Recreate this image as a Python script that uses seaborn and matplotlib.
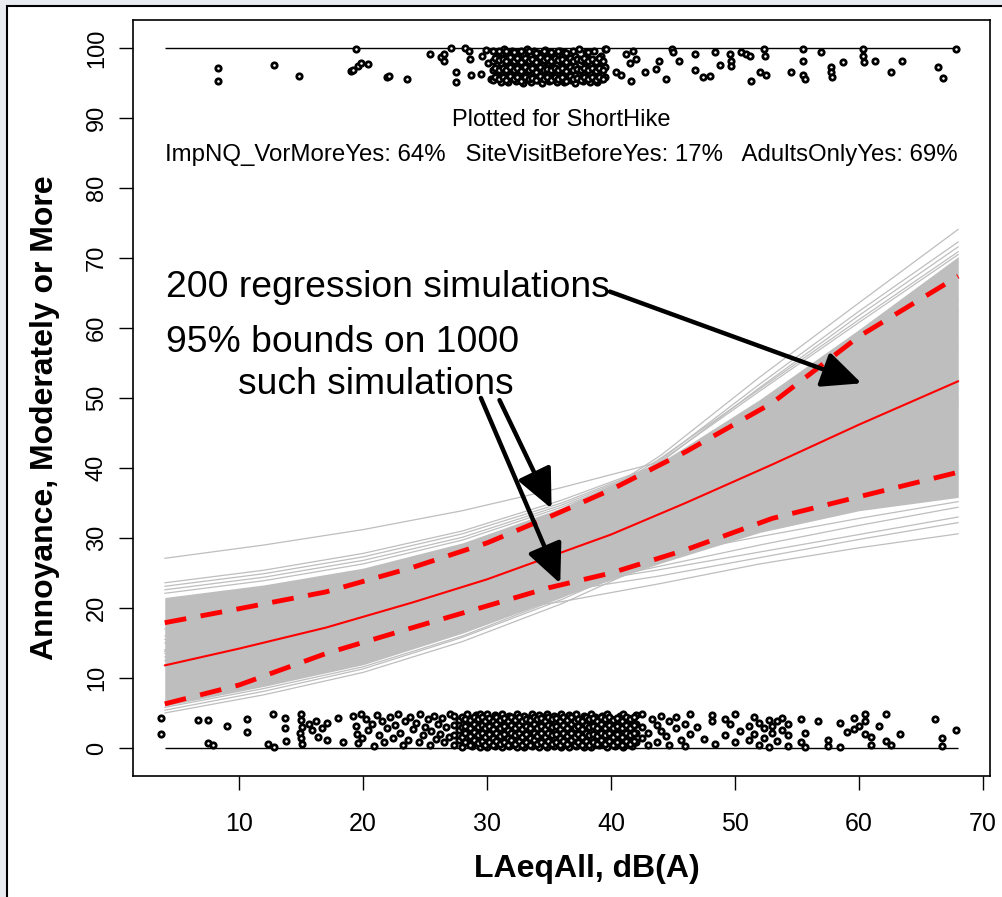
import numpy as np
import pandas as pd
import matplotlib
matplotlib.use('Agg')
import matplotlib.pyplot as plt
from matplotlib.patches import Rectangle
import seaborn as sns

sns.set_style('white')
plt.rcParams['font.family'] = ['Liberation Sans', 'DejaVu Sans']
plt.rcParams['text.color'] = 'black'
plt.rcParams['axes.labelcolor'] = 'black'
plt.rcParams['xtick.color'] = 'black'
plt.rcParams['ytick.color'] = 'black'

# noise level grid used for curves
curve_x = [4, 10, 17, 24, 30, 35, 40, 46, 53, 60, 68]
median_y = [11.8, 14.2, 17.2, 20.8, 24.1, 27.3, 30.5, 35.0, 40.5, 46.2, 52.4]
upper_y = [17.9, 19.9, 22.3, 25.8, 29.3, 33.0, 36.9, 42.3, 49.3, 58.8, 67.4]
lower_y = [6.3, 9.0, 13.5, 17.2, 20.3, 22.9, 25.0, 28.3, 32.8, 35.9, 39.4]

# simulated regression lines (values at sim_x)
sim_x = [4, 12, 20, 28, 36, 44, 52, 60, 68]
core_lo = [6.0, 8.8, 11.9, 16.4, 21.6, 26.4, 30.8, 33.9, 35.8]
core_hi = [21.5, 23.3, 25.7, 29.3, 34.3, 40.8, 49.8, 59.8, 70.2]
sim_lines = {
    't1': [27.1, 29.0, 31.2, 33.9, 37.2, 40.9, 45.5, 51.0, 57.0],
    't2': [23.6, 25.4, 27.8, 31.0, 35.4, 40.6, 46.5, 53.0, 60.0],
    't3': [23.1, 24.9, 27.3, 30.6, 35.0, 40.5, 47.0, 54.0, 61.5],
    't4': [22.6, 24.4, 26.8, 30.1, 34.7, 40.4, 47.2, 54.6, 62.5],
    't5': [22.1, 23.9, 26.3, 29.7, 34.4, 40.3, 47.6, 55.5, 64.0],
    'r1': [14.0, 17.0, 20.6, 25.6, 32.6, 41.8, 53.0, 63.6, 74.1],
    'r2': [13.0, 16.0, 19.6, 24.6, 31.6, 41.2, 52.0, 62.4, 72.3],
    'r3': [12.5, 15.6, 19.1, 24.1, 31.1, 40.8, 51.5, 61.8, 71.6],
    'r4': [15.0, 17.6, 21.1, 25.8, 32.6, 41.4, 51.3, 61.2, 70.9],
    'r5': [13.8, 16.6, 20.1, 25.0, 32.0, 41.0, 51.0, 60.8, 70.5],
    'b1': [5.0, 7.6, 10.8, 15.2, 20.6, 27.0, 34.5, 42.0, 49.5],
    'b2': [5.4, 8.1, 11.3, 15.8, 21.2, 27.5, 34.5, 42.0, 49.0],
    'b3': [5.8, 8.5, 11.6, 16.0, 21.5, 27.8, 35.0, 42.5, 50.0],
    'f1': [14.0, 15.6, 17.3, 19.0, 20.9, 23.5, 26.3, 28.6, 30.6],
    'f2': [15.5, 17.0, 18.8, 20.6, 22.4, 24.6, 27.2, 29.8, 32.2],
    'f3': [16.0, 17.6, 19.3, 21.2, 23.2, 25.5, 28.0, 30.5, 33.0],
    'f4': [13.5, 15.5, 17.8, 20.3, 23.0, 26.0, 29.0, 31.8, 34.4],
    'f5': [17.0, 18.8, 20.7, 22.8, 25.0, 27.5, 30.2, 32.8, 35.2],
}

# jittered responses, not annoyed (0-5)
bottom_x = [3.7, 3.7, 6.7, 7.5, 7.5, 7.9, 9.0, 10.6, 10.6, 12.3, 12.7, 12.8, 13.7, 13.7, 13.8,
            15.0, 15.0, 15.1, 14.9, 15.0, 15.1, 15.6, 15.9, 16.2, 16.4, 16.7, 17.1, 17.1, 18.0, 18.4,
            19.2, 19.4, 19.5, 19.6, 19.8, 19.9, 20.2, 20.4, 20.7, 20.9, 21.1, 21.3, 21.5, 21.7, 21.9,
            22.2, 22.4, 22.6, 22.8, 23.0, 23.2, 23.4, 23.6, 23.8, 24.0, 24.3, 24.5, 24.6, 24.8, 25.0,
            25.2, 25.4, 25.5, 25.7, 25.9, 26.0, 26.2, 26.4, 26.5, 26.7, 26.9, 27.0,
            27.3, 27.3, 27.3, 27.3, 27.7, 27.7, 27.7, 28.0, 28.0, 28.0, 28.0, 28.4, 28.4, 28.4, 28.4,
            28.8, 28.8, 28.8, 28.8, 29.1, 29.1, 29.1, 29.1, 29.4, 29.4, 29.4, 29.4, 29.4,
            29.7, 29.7, 29.7, 29.7, 30.0, 30.0, 30.0, 30.0, 30.0, 30.3, 30.3, 30.3, 30.3,
            30.6, 30.6, 30.6, 30.6, 30.6, 30.9, 30.9, 30.9, 30.9, 31.2, 31.2, 31.2, 31.2, 31.2,
            31.5, 31.5, 31.5, 31.5, 31.8, 31.8, 31.8, 31.8, 31.8, 32.1, 32.1, 32.1, 32.1,
            32.4, 32.4, 32.4, 32.4, 32.4, 32.7, 32.7, 32.7, 32.7, 33.0, 33.0, 33.0, 33.0, 33.0,
            33.3, 33.3, 33.3, 33.3, 33.6, 33.6, 33.6, 33.6, 33.6, 33.9, 33.9, 33.9, 33.9,
            34.2, 34.2, 34.2, 34.2, 34.2, 34.5, 34.5, 34.5, 34.5, 34.8, 34.8, 34.8, 34.8, 34.8,
            35.1, 35.1, 35.1, 35.1, 35.4, 35.4, 35.4, 35.4, 35.4, 35.7, 35.7, 35.7, 35.7,
            36.0, 36.0, 36.0, 36.0, 36.0, 36.3, 36.3, 36.3, 36.3, 36.6, 36.6, 36.6, 36.6, 36.6,
            36.9, 36.9, 36.9, 36.9, 37.2, 37.2, 37.2, 37.2, 37.2, 37.5, 37.5, 37.5, 37.5,
            37.8, 37.8, 37.8, 37.8, 37.8, 38.1, 38.1, 38.1, 38.1, 38.4, 38.4, 38.4, 38.4, 38.4,
            38.7, 38.7, 38.7, 38.7, 39.0, 39.0, 39.0, 39.0, 39.3, 39.3, 39.3, 39.3,
            39.7, 39.7, 39.7, 39.7, 39.7, 40.0, 40.0, 40.0, 40.0, 40.3, 40.3, 40.3, 40.3,
            40.7, 40.7, 40.7, 40.7, 41.0, 41.0, 41.0, 41.0, 41.0, 41.4, 41.4, 41.4, 41.4,
            41.7, 41.7, 41.7, 41.7, 42.0, 42.0, 42.0, 42.0,
            42.5, 42.5, 42.5, 43.0, 43.0, 43.3, 43.7, 43.7, 44.0, 44.0, 44.4, 44.7, 44.7, 45.2, 45.2,
            45.6, 46.0, 46.0, 46.4, 46.4, 46.9, 47.5, 48.1, 48.1, 48.4, 49.2, 49.2, 49.6, 50.0, 50.0,
            50.4, 51.1, 51.1, 51.5, 51.5, 51.9, 51.9, 52.3, 52.3, 52.7, 52.7, 53.0, 53.0, 53.4, 53.4,
            53.8, 53.8, 54.3, 54.3, 54.3, 55.3, 55.3, 55.6, 55.6, 56.7, 57.5, 57.5, 58.5, 58.5, 59.0,
            59.6, 59.6, 60.0, 60.5, 60.5, 60.5, 61.0, 61.0, 61.6, 62.2, 62.2, 62.6, 63.3, 66.1, 66.7,
            66.7, 67.8]
bottom_y = [4.3, 2.0, 4.0, 4.0, 0.7, 0.4, 3.2, 4.2, 2.3, 0.6, 4.9, 0.2, 4.3, 2.8, 1.0,
            4.8, 4.0, 3.0, 2.2, 1.4, 0.6, 3.4, 2.6, 3.8, 1.6, 2.9, 3.6, 1.2, 4.3, 0.8,
            4.6, 3.1, 2.0, 0.7, 4.9, 1.4, 4.2, 2.6, 3.5, 0.3, 4.7, 1.9, 3.9, 0.9, 2.9,
            4.4, 1.5, 3.3, 4.9, 2.2, 0.5, 3.9, 1.2, 4.5, 2.7, 3.6, 0.9, 4.8, 1.8, 3.0,
            4.1, 0.4, 2.4, 4.6, 1.3, 3.4, 2.0, 4.3, 0.8, 3.0, 1.6, 4.8,
            0.4, 1.9, 3.3, 4.6, 1.1, 2.6, 4.0, 0.2, 1.6, 3.0, 4.4, 0.8, 2.2, 3.7, 4.9,
            0.3, 1.5, 2.9, 4.2, 0.9, 2.3, 3.5, 4.7, 0.1, 1.3, 2.6, 3.9, 4.8,
            0.6, 1.8, 3.1, 4.3, 0.2, 1.2, 2.4, 3.6, 4.9, 0.7, 1.9, 3.0, 4.2,
            0.3, 1.4, 2.6, 3.8, 4.7, 0.9, 2.1, 3.3, 4.4, 0.1, 1.2, 2.5, 3.6, 4.8,
            0.6, 1.7, 2.9, 4.1, 0.3, 1.4, 2.4, 3.5, 4.6, 0.8, 2.0, 3.2, 4.3,
            0.2, 1.1, 2.6, 3.8, 4.9, 0.6, 1.6, 2.9, 4.1, 0.1, 1.3, 2.3, 3.5, 4.6,
            0.7, 1.9, 3.1, 4.3, 0.3, 1.2, 2.5, 3.7, 4.8, 0.8, 2.0, 3.0, 4.2,
            0.2, 1.5, 2.7, 3.8, 4.7, 0.6, 1.7, 3.2, 4.4, 0.1, 1.1, 2.3, 3.5, 4.9,
            0.7, 1.9, 2.9, 4.1, 0.3, 1.4, 2.6, 3.7, 4.6, 0.9, 2.0, 3.3, 4.4,
            0.2, 1.2, 2.4, 3.6, 4.8, 0.6, 1.8, 3.0, 4.2, 0.1, 1.4, 2.6, 3.8, 4.7,
            0.8, 2.1, 3.2, 4.4, 0.3, 1.3, 2.5, 3.6, 4.9, 0.7, 1.9, 3.0, 4.1,
            0.2, 1.1, 2.3, 3.5, 4.6, 0.6, 1.7, 2.9, 4.3, 0.1, 1.4, 2.6, 3.8, 4.8,
            0.9, 2.2, 3.3, 4.5, 0.4, 1.5, 2.7, 3.9, 0.8, 2.0, 3.2, 4.6,
            0.2, 1.3, 2.5, 3.6, 4.8, 0.7, 1.9, 3.0, 4.2, 0.3, 1.4, 2.6, 3.9,
            0.9, 2.1, 3.4, 4.6, 0.2, 1.2, 2.4, 3.7, 4.9, 0.6, 1.8, 3.1, 4.3,
            0.3, 1.5, 2.8, 4.0, 0.8, 2.2, 3.5, 4.7,
            4.8, 3.0, 1.5, 2.2, 0.4, 4.1, 3.3, 0.9, 4.6, 2.5, 1.7, 3.8, 0.5, 2.9, 4.4,
            1.1, 3.5, 0.3, 4.9, 2.0, 3.0, 1.3, 4.7, 3.9, 0.6, 4.2, 1.9, 3.4, 4.8, 0.8,
            2.5, 3.1, 1.2, 4.4, 2.0, 0.4, 3.6, 2.8, 1.5, 4.0, 0.2, 3.2, 2.1, 1.0, 3.8,
            2.6, 4.3, 0.3, 3.4, 1.8, 4.1, 0.9, 0.2, 2.1, 3.9, 0.3, 1.2, 0.1, 3.6, 2.3,
            4.3, 2.7, 3.1, 3.8, 2.0, 4.8, 1.6, 0.5, 3.2, 1.0, 4.8, 0.5, 2.0, 4.1, 1.5,
            0.3, 2.6]

# more responses in the crowded 28-42 dB(A) block (one column of y values per x)
dense_bottom_x = [28.2, 28.6, 28.95, 29.25, 29.55, 29.85, 30.15, 30.45, 30.75, 31.05, 31.35,
                  31.65, 31.95, 32.25, 32.55, 32.85, 33.15, 33.45, 33.75, 34.05, 34.35, 34.65,
                  34.95, 35.25, 35.55, 35.85, 36.15, 36.45, 36.75, 37.05, 37.35, 37.65, 37.95,
                  38.25, 38.55, 38.85, 39.15, 39.5, 39.85, 40.15, 40.5, 40.85, 41.2, 41.55, 41.85]
dense_bottom_y = [[0.9, 2.1, 3.2, 4.2], [0.5, 1.7, 2.8, 4.0], [1.1, 2.3, 3.4, 4.5], [0.7, 1.9, 3.0, 4.1],
                  [1.0, 2.1, 3.3, 4.4], [0.5, 1.6, 2.8, 3.9], [0.9, 2.0, 3.1, 4.3], [0.4, 1.5, 2.7, 3.8],
                  [1.0, 2.2, 3.4, 4.5], [0.6, 1.7, 2.9, 4.0], [0.9, 2.0, 3.2, 4.3], [0.4, 1.5, 2.6, 3.8],
                  [1.1, 2.2, 3.3, 4.5], [0.6, 1.8, 2.9, 4.0], [1.0, 2.1, 3.3, 4.4], [0.5, 1.6, 2.7, 3.9],
                  [0.9, 2.0, 3.1, 4.2], [0.4, 1.5, 2.8, 4.0], [1.1, 2.2, 3.4, 4.5], [0.6, 1.7, 2.9, 4.1],
                  [0.9, 2.1, 3.2, 4.3], [0.5, 1.6, 2.7, 3.8], [1.0, 2.2, 3.3, 4.4], [0.6, 1.8, 3.0, 4.1],
                  [0.9, 2.0, 3.2, 4.3], [0.4, 1.5, 2.7, 3.9], [1.0, 2.1, 3.3, 4.4], [0.6, 1.7, 2.9, 4.0],
                  [1.1, 2.2, 3.4, 4.5], [0.5, 1.6, 2.8, 3.9], [0.9, 2.0, 3.1, 4.2], [0.4, 1.6, 2.7, 3.8],
                  [1.0, 2.2, 3.3, 4.4], [0.5, 1.8, 3.0, 4.1], [0.9, 2.0, 3.2, 4.3], [0.6, 1.7, 2.8, 3.9],
                  [1.1, 2.2, 3.4, 4.5], [0.6, 1.8, 2.9, 4.1], [1.0, 2.1, 3.3, 4.4], [0.5, 1.6, 2.8, 4.0],
                  [0.9, 2.0, 3.1, 4.3], [0.5, 1.6, 2.8, 3.9], [1.0, 2.1, 3.3, 4.5], [0.6, 1.8, 2.9, 4.1],
                  [1.0, 2.2, 3.3, 4.4]]

# jittered responses, annoyed (95-100)
top_x = [8.3, 8.3, 12.8, 14.8, 19.0, 19.2, 19.4, 19.6, 19.8, 20.4, 21.9, 22.1, 23.5, 25.4,
         26.3, 26.5, 26.5, 27.1, 27.5, 27.5, 28.2, 28.5, 28.6, 28.7, 29.5, 29.6, 29.9, 30.1, 30.3,
         30.5, 30.5, 30.5, 30.5, 30.8, 30.8, 30.8, 31.1, 31.1, 31.1, 31.1, 31.4, 31.4, 31.4, 31.4,
         31.7, 31.7, 31.7, 31.7, 32.0, 32.0, 32.0, 32.0, 32.3, 32.3, 32.3, 32.3, 32.6, 32.6, 32.6,
         32.9, 32.9, 32.9, 32.9, 33.2, 33.2, 33.2, 33.2, 33.5, 33.5, 33.5, 33.5, 33.8, 33.8, 33.8, 33.8,
         34.1, 34.1, 34.1, 34.1, 34.4, 34.4, 34.4, 34.4, 34.7, 34.7, 34.7, 34.7, 35.0, 35.0, 35.0, 35.0,
         35.3, 35.3, 35.3, 35.6, 35.6, 35.6, 35.6, 35.9, 35.9, 35.9, 35.9, 36.2, 36.2, 36.2, 36.2,
         36.5, 36.5, 36.5, 36.8, 36.8, 36.8, 36.8, 37.1, 37.1, 37.1, 37.1, 37.4, 37.4, 37.4, 37.4,
         37.7, 37.7, 37.7, 38.0, 38.0, 38.0, 38.0, 38.3, 38.3, 38.3, 38.6, 38.6, 38.6, 38.6,
         38.9, 38.9, 38.9, 39.2, 39.2, 39.2, 39.5, 39.5, 39.5,
         39.6, 40.4, 40.8, 41.2, 41.5, 41.6, 41.8, 42.0, 42.7, 43.6, 43.9, 44.4, 44.9, 45.0, 45.5,
         46.8, 46.8, 47.4, 48.0, 48.4, 48.8, 49.6, 49.7, 49.7, 50.5, 50.9, 51.2, 51.3, 52.3, 52.4,
         52.0, 52.5, 54.5, 55.5, 55.5, 55.5, 55.6, 56.9, 57.7, 57.7, 57.8, 58.7, 60.3, 60.3, 60.4,
         61.3, 62.6, 63.5, 66.4, 66.8, 67.8]
top_y = [97.1, 95.3, 97.6, 96.0, 96.7, 96.9, 99.9, 97.4, 97.9, 97.7, 95.8, 96.0, 95.6, 99.1,
         98.7, 99.1, 98.2, 100.0, 96.6, 95.1, 100.0, 99.6, 98.4, 96.1, 96.3, 98.9, 99.7, 97.8, 95.5,
         95.4, 96.8, 98.1, 99.5, 96.1, 97.5, 98.9, 95.2, 96.6, 97.9, 99.3, 95.8, 97.2, 98.6, 99.9,
         95.1, 96.4, 97.7, 99.1, 95.9, 97.0, 98.4, 99.6, 95.3, 96.7, 98.0, 99.4, 95.7, 97.3, 98.7,
         95.0, 96.4, 97.8, 99.2, 95.6, 96.9, 98.3, 99.8, 95.2, 96.5, 97.6, 99.0, 95.9, 97.1, 98.5, 99.6,
         95.4, 96.8, 98.0, 99.3, 95.0, 96.3, 97.5, 98.8, 95.7, 97.0, 98.4, 99.7, 95.3, 96.6, 97.9, 99.2,
         95.8, 97.2, 98.6, 95.1, 96.4, 97.7, 99.0, 95.6, 96.9, 98.2, 99.5, 95.2, 96.7, 98.0, 99.4,
         95.9, 97.3, 98.7, 95.4, 96.5, 97.8, 99.1, 95.0, 96.2, 97.4, 98.9, 95.7, 97.0, 98.4, 99.8,
         95.3, 96.6, 98.1, 95.8, 97.1, 98.6, 99.4, 95.2, 96.4, 97.7, 95.6, 96.9, 98.3, 99.6,
         95.1, 96.3, 97.5, 95.5, 96.8, 98.8, 95.9, 97.3, 99.9,
         99.9, 96.6, 96.1, 99.1, 97.9, 95.3, 99.6, 98.4, 96.6, 97.0, 98.2, 95.6, 99.9, 99.4, 98.1,
         99.1, 96.9, 95.9, 96.0, 99.4, 97.5, 99.1, 98.2, 97.4, 99.4, 99.1, 98.9, 95.3, 99.9, 98.9,
         96.6, 96.1, 96.6, 99.9, 98.2, 96.1, 95.6, 99.4, 97.3, 96.6, 95.8, 98.0, 99.9, 98.9, 98.0,
         98.1, 96.6, 98.1, 97.3, 95.7, 99.9]

dense_top_x = [30.65, 30.95, 31.25, 31.55, 31.85, 32.15, 32.45, 32.75, 33.05, 33.35, 33.65,
               33.95, 34.25, 34.55, 34.85, 35.15, 35.45, 35.75, 36.05, 36.35, 36.65, 36.95,
               37.25, 37.55, 37.85, 38.15, 38.45, 38.75, 39.05, 39.35]
dense_top_y = [[95.9, 97.2, 98.5], [95.5, 96.9, 98.3, 99.6], [95.8, 97.1, 98.4], [95.4, 96.8, 98.2, 99.5],
               [96.0, 97.3, 98.7], [95.6, 96.9, 98.1, 99.4], [95.8, 97.2, 98.5], [95.3, 96.7, 98.0, 99.5],
               [95.9, 97.3, 98.6], [95.5, 96.8, 98.2, 99.6], [95.7, 97.1, 98.4], [95.4, 96.6, 98.0, 99.3],
               [96.0, 97.3, 98.7], [95.5, 96.9, 98.3, 99.5], [95.8, 97.0, 98.5], [95.4, 96.8, 98.1, 99.4],
               [95.9, 97.2, 98.6], [95.6, 96.9, 98.3, 99.6], [95.8, 97.1, 98.4], [95.3, 96.7, 98.0, 99.3],
               [96.0, 97.3, 98.6], [95.5, 96.8, 98.2, 99.5], [95.7, 97.0, 98.4], [95.4, 96.9, 98.3],
               [95.9, 97.2, 98.5], [95.5, 96.8, 98.1, 99.4], [95.8, 97.1, 98.4], [95.4, 96.7, 98.0],
               [95.9, 97.2, 98.6], [95.6, 96.9, 98.2]]

x_ticks = [10, 20, 30, 40, 50, 60, 70]
y_ticks = [0, 10, 20, 30, 40, 50, 60, 70, 80, 90, 100]

W, H = 1003, 897
fig = plt.figure(figsize=(W / 100, H / 100), dpi=100)
fig.patch.set_facecolor('#e8ebef')
fig.patches.append(Rectangle((7 / W, -0.05), 1.1, (H - 6) / H + 0.05, transform=fig.transFigure,
                             facecolor='white', edgecolor='black', lw=1.5, zorder=-5))
ax = fig.add_axes([133 / W, 1 - 776 / H, (990 - 133) / W, (776 - 20) / H])

# gray band of simulations
ax.fill_between(sim_x, core_lo, core_hi, color='#bebebe', lw=0, zorder=1)
sim_df = pd.DataFrame([(k, xv, yv) for k, vals in sim_lines.items() for xv, yv in zip(sim_x, vals)],
                      columns=['sim', 'x', 'y'])
sns.lineplot(data=sim_df, x='x', y='y', units='sim', estimator=None, color='#bebebe',
             lw=0.9, ax=ax, zorder=2, legend=False)

# median and 95% bounds
sns.lineplot(x=curve_x, y=median_y, color='red', lw=1.5, ax=ax, zorder=4)
for yb in (upper_y, lower_y):
    sns.lineplot(x=curve_x, y=yb, color='red', lw=3.5, ax=ax, zorder=4, dashes=False,
                 linestyle=(0, (4.5, 3)))

# response lines and jittered points
ax.hlines([0, 100], 4, 68, color='black', lw=1, zorder=3)
pts_x = bottom_x + top_x
pts_y = bottom_y + top_y
for xv, col in zip(dense_bottom_x + dense_top_x, dense_bottom_y + dense_top_y):
    pts_x += [xv] * len(col)
    pts_y += col
sns.scatterplot(x=pts_x, y=pts_y, ax=ax, marker='o', s=15, facecolor='white',
                edgecolor='black', linewidth=2.0, zorder=5)

ax.set_xlim(1.44, 70.56)
ax.set_ylim(-4, 104)
ax.set_xticks(x_ticks)
ax.set_yticks(y_ticks)
ax.tick_params(axis='both', direction='out', length=10, width=1, color='black', left=True, bottom=True)
ax.tick_params(axis='x', labelsize=18, pad=16)
ax.tick_params(axis='y', labelsize=17, pad=8)
plt.setp(ax.get_yticklabels(), rotation=90, va='center')
for s in ax.spines.values():
    s.set_color('black')
    s.set_linewidth(1.2)
ax.set_xlabel('LAeqAll, dB(A)', fontsize=23, fontweight='bold', va='center')
ax.set_ylabel('Annoyance, Moderately or More', fontsize=23, fontweight='bold', va='center')
ax.xaxis.set_label_coords((587 - 133) / 857, (776 - 869) / 756)
ax.yaxis.set_label_coords((45 - 133) / 857, (776 - 418) / 756)

ax.text(36, 89.7, 'Plotted for ShortHike', ha='center', va='center', fontsize=17)
ax.text(36, 84.7, 'ImpNQ_VorMoreYes: 64%   SiteVisitBeforeYes: 17%   AdultsOnlyYes: 69%',
        ha='center', va='center', fontsize=17.3)
ax.text(4.1, 65.8, '200 regression simulations', ha='left', va='center', fontsize=26.8)
ax.text(4.1, 58.0, '95% bounds on 1000', ha='left', va='center', fontsize=26.8)
ax.text(9.9, 51.9, 'such simulations', ha='left', va='center', fontsize=26.8)

arrow = dict(arrowstyle='-|>,head_length=1.2,head_width=0.55', lw=3.2, color='black',
             mutation_scale=20, shrinkA=0, shrinkB=0)
ax.annotate('', xy=(60.2, 52.1), xytext=(39.9, 65.2), arrowprops=arrow, zorder=6)
ax.annotate('', xy=(35.2, 34.2), xytext=(31.0, 49.7), arrowprops=arrow, zorder=6)
ax.annotate('', xy=(35.9, 23.5), xytext=(29.5, 50.0), arrowprops=arrow, zorder=6)

fig.savefig('out.png', dpi=100, facecolor=fig.get_facecolor())
